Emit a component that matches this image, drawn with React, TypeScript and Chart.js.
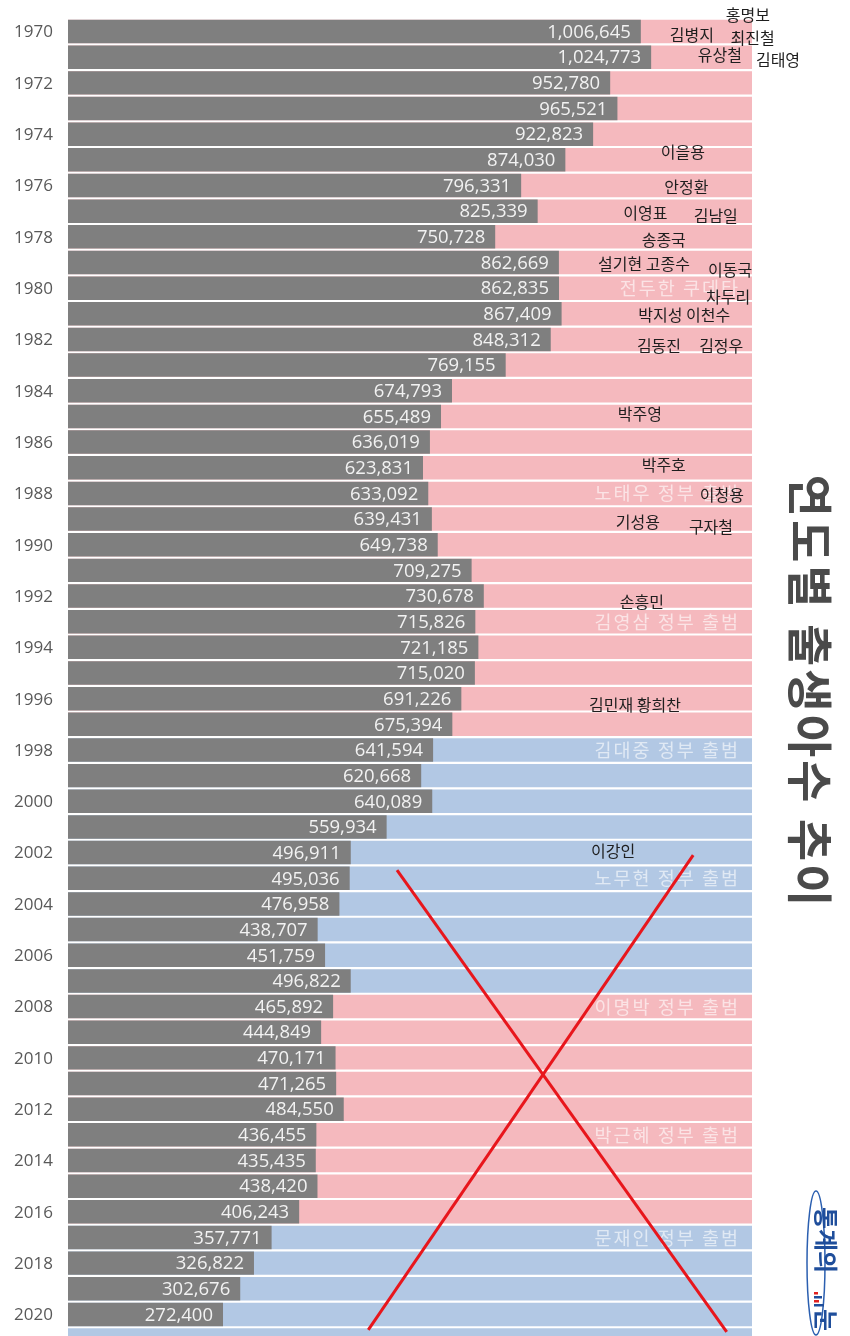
import React, { useEffect, useRef } from "react";
import { Chart, registerables } from "chart.js";

Chart.register(...registerables);

// ---- data ----
const YEARS = [
  1970, 1971, 1972, 1973, 1974, 1975, 1976, 1977, 1978, 1979,
  1980, 1981, 1982, 1983, 1984, 1985, 1986, 1987, 1988, 1989,
  1990, 1991, 1992, 1993, 1994, 1995, 1996, 1997, 1998, 1999,
  2000, 2001, 2002, 2003, 2004, 2005, 2006, 2007, 2008, 2009,
  2010, 2011, 2012, 2013, 2014, 2015, 2016, 2017, 2018, 2019, 2020,
];
const BIRTHS = [
  1006645, 1024773, 952780, 965521, 922823, 874030, 796331, 825339, 750728, 862669,
  862835, 867409, 848312, 769155, 674793, 655489, 636019, 623831, 633092, 639431,
  649738, 709275, 730678, 715826, 721185, 715020, 691226, 675394, 641594, 620668,
  640089, 559934, 496911, 495036, 476958, 438707, 451759, 496822, 465892, 444849,
  470171, 471265, 484550, 436455, 435435, 438420, 406243, 357771, 326822, 302676, 272400,
];
const BG_YEARS = [...YEARS, 2021];
const BLUE_ERAS = [
  [1998, 2007],
  [2017, 2021],
];
const TICK_YEARS = [
  1970, 1972, 1974, 1976, 1978, 1980, 1982, 1984, 1986, 1988, 1990, 1992, 1994,
  1996, 1998, 2000, 2002, 2004, 2006, 2008, 2010, 2012, 2014, 2016, 2018, 2020,
];
const GOV_LABELS = [
  { year: 1980, text: "전두한 쿠데타" },
  { year: 1988, text: "노태우 정부 출범" },
  { year: 1993, text: "김영삼 정부 출범" },
  { year: 1998, text: "김대중 정부 출범" },
  { year: 2003, text: "노무현 정부 출범" },
  { year: 2008, text: "이명박 정부 출범" },
  { year: 2013, text: "박근혜 정부 출범" },
  { year: 2017, text: "문재인 정부 출범" },
];
// fx: fraction of plot width, year: vertical position in years
const PLAYERS = [
  { text: "홍명보", fx: 0.994, year: 1969.36 },
  { text: "김병지", fx: 0.912, year: 1970.14 },
  { text: "최진철", fx: 1.001, year: 1970.25 },
  { text: "유상철", fx: 0.953, year: 1970.92 },
  { text: "김태영", fx: 1.038, year: 1971.11 },
  { text: "이을용", fx: 0.899, year: 1974.7 },
  { text: "안정환", fx: 0.904, year: 1976.06 },
  { text: "이영표", fx: 0.844, year: 1977.07 },
  { text: "김남일", fx: 0.947, year: 1977.19 },
  { text: "송종국", fx: 0.871, year: 1978.13 },
  { text: "설기현 고종수", fx: 0.842, year: 1979.06 },
  { text: "이동국", fx: 0.968, year: 1979.29 },
  { text: "차두리", fx: 0.965, year: 1980.35 },
  { text: "박지성 이천수", fx: 0.901, year: 1981.05 },
  { text: "김동진", fx: 0.864, year: 1982.26 },
  { text: "김정우", fx: 0.955, year: 1982.26 },
  { text: "박주영", fx: 0.836, year: 1984.91 },
  { text: "박주호", fx: 0.871, year: 1986.9 },
  { text: "이청용", fx: 0.956, year: 1988.06 },
  { text: "기성용", fx: 0.833, year: 1989.12 },
  { text: "구자철", fx: 0.94, year: 1989.31 },
  { text: "손흥민", fx: 0.839, year: 1992.23 },
  { text: "김민재 황희찬", fx: 0.829, year: 1996.25 },
  { text: "이강인", fx: 0.797, year: 2001.94 },
];
const CROSS_LINES = [
  { fx1: 0.481, y1: 2002.68, fx2: 0.963, y2: 2020.68 },
  { fx1: 0.914, y1: 2002.1, fx2: 0.439, y2: 2020.6 },
];
const TITLE = "연도별 출생아수 추이";
const X_MAX = 1202000;

const GRAY = "#7f7f7f";
const PINK = "#f5b9be";
const BLUE = "#b2c8e4";

function eraColor(y: number) {
  return BLUE_ERAS.some(([a, b]) => y >= a && y <= b) ? BLUE : PINK;
}

const fmt = (v: number) => v.toLocaleString("en-US");

const overlayPlugin = {
  id: "overlay",
  afterDatasetsDraw(chart: any) {
    const ctx = chart.ctx as CanvasRenderingContext2D;
    const area = chart.chartArea;
    const ys = chart.scales.y;
    const w = area.right - area.left;
    const px = (fx: number) => area.left + fx * w;

    // year tick labels from the y scale's ticks
    ctx.save();
    ctx.font = '17px "Open Sans"';
    ctx.fillStyle = "#595959";
    ctx.textAlign = "right";
    ctx.textBaseline = "middle";
    ys.ticks.forEach((t: any) => {
      ctx.fillText(String(t.value), area.left - 15, ys.getPixelForValue(t.value) + 1);
    });
    ctx.restore();

    // value labels inside gray bars
    const meta = chart.getDatasetMeta(0);
    ctx.save();
    ctx.font = '18.5px "Open Sans"';
    ctx.fillStyle = "#f2f2f2";
    ctx.textAlign = "right";
    ctx.textBaseline = "middle";
    meta.data.forEach((el: any, i: number) => {
      ctx.fillText(fmt(BIRTHS[i]), el.x - 10, el.y + 1);
    });
    ctx.restore();

    // government labels
    ctx.save();
    ctx.font = '18.5px "Noto Sans CJK KR"';
    (ctx as any).letterSpacing = "2px";
    ctx.fillStyle = "rgba(255,255,255,0.6)";
    ctx.textAlign = "right";
    ctx.textBaseline = "middle";
    GOV_LABELS.forEach((g) => {
      ctx.fillText(g.text, px(0.9795) + 2, ys.getPixelForValue(g.year));
    });
    ctx.restore();

    // player names
    ctx.save();
    ctx.font = '16px "Noto Sans CJK KR"';
    ctx.fillStyle = "#1e1e1e";
    ctx.textAlign = "center";
    ctx.textBaseline = "middle";
    PLAYERS.forEach((p) => {
      ctx.fillText(p.text, px(p.fx), ys.getPixelForValue(p.year));
    });
    ctx.restore();

    // red X
    ctx.save();
    ctx.strokeStyle = "#e8161c";
    ctx.lineWidth = 3;
    CROSS_LINES.forEach((l) => {
      ctx.beginPath();
      ctx.moveTo(px(l.fx1), ys.getPixelForValue(l.y1));
      ctx.lineTo(px(l.fx2), ys.getPixelForValue(l.y2));
      ctx.stroke();
    });
    ctx.restore();
  },
  afterDraw(chart: any) {
    const ctx = chart.ctx as CanvasRenderingContext2D;
    const W = chart.width;
    // vertical title
    ctx.save();
    ctx.translate(W - 40, 692);
    ctx.rotate(Math.PI / 2);
    ctx.font = 'bold 46px "Noto Sans CJK KR"';
    (ctx as any).letterSpacing = "3px";
    ctx.fillStyle = "#4a4a4a";
    ctx.textAlign = "center";
    ctx.textBaseline = "middle";
    ctx.fillText(TITLE, 0, 0);
    ctx.restore();

    // logo
    ctx.save();
    ctx.strokeStyle = "#2b5fb0";
    ctx.lineWidth = 1.5;
    ctx.beginPath();
    ctx.ellipse(W - 34, 1263, 9, 72, 0, 0, Math.PI * 2);
    ctx.stroke();
    ctx.translate(W - 24, 1262);
    ctx.rotate(Math.PI / 2);
    ctx.fillStyle = "#1f4e9b";
    ctx.font = 'bold 24px "Noto Sans CJK KR"';
    ctx.textAlign = "center";
    ctx.textBaseline = "middle";
    ctx.fillText("통계의", -22, 0);
    ctx.fillText("눈", 58, 0);
    const bars = [4, 8, 5, 10];
    bars.forEach((h, i) => {
      ctx.fillStyle = i % 2 ? "#1f4e9b" : "#e02020";
      ctx.fillRect(30 + i * 4, 12 - h, 2.5, h);
    });
    ctx.restore();
  },
};

export default function App() {
  const ref = useRef<HTMLCanvasElement>(null);
  useEffect(() => {
    if (!ref.current) return;
    const chart = new Chart(ref.current, {
      type: "bar",
      data: {
        datasets: [
          {
            label: "출생아수",
            data: YEARS.map((y, i) => ({ x: BIRTHS[i], y })),
            backgroundColor: GRAY,
            grouped: false,
            clip: false,
            categoryPercentage: 1,
            barPercentage: 0.915,
          } as any,
          {
            label: "bg",
            data: BG_YEARS.map((y) => ({ x: X_MAX, y })),
            backgroundColor: BG_YEARS.map(eraColor),
            grouped: false,
            clip: false,
            categoryPercentage: 1,
            barPercentage: 0.915,
          } as any,
        ],
      },
      options: {
        indexAxis: "y",
        responsive: false,
        animation: false,
        layout: { padding: { left: 0, right: 98, top: 0, bottom: 0 } },
        plugins: { legend: { display: false }, tooltip: { enabled: false } },
        scales: {
          x: { type: "linear", min: 0, max: X_MAX, display: false },
          y: {
            type: "linear",
            reverse: true,
            offset: false,
            min: 1968.77,
            max: 2020.84,
            grid: { display: false, drawTicks: false },
            border: { display: false },
            ticks: { display: false },
            afterBuildTicks: (s: any) => {
              s.ticks = TICK_YEARS.map((v) => ({ value: v }));
            },
            afterFit: (s: any) => {
              s.width = 68;
              s.paddingTop = 0;
              s.paddingBottom = 0;
            },
          },
        },
      } as any,
      plugins: [overlayPlugin],
    });
    return () => chart.destroy();
  }, []);
  return (
    <div style={{ position: "absolute", left: 0, top: 0, width: 850, height: 1336, background: "#fff" }}>
      <canvas ref={ref} width={850} height={1336} style={{ display: "block" }} />
    </div>
  );
}
